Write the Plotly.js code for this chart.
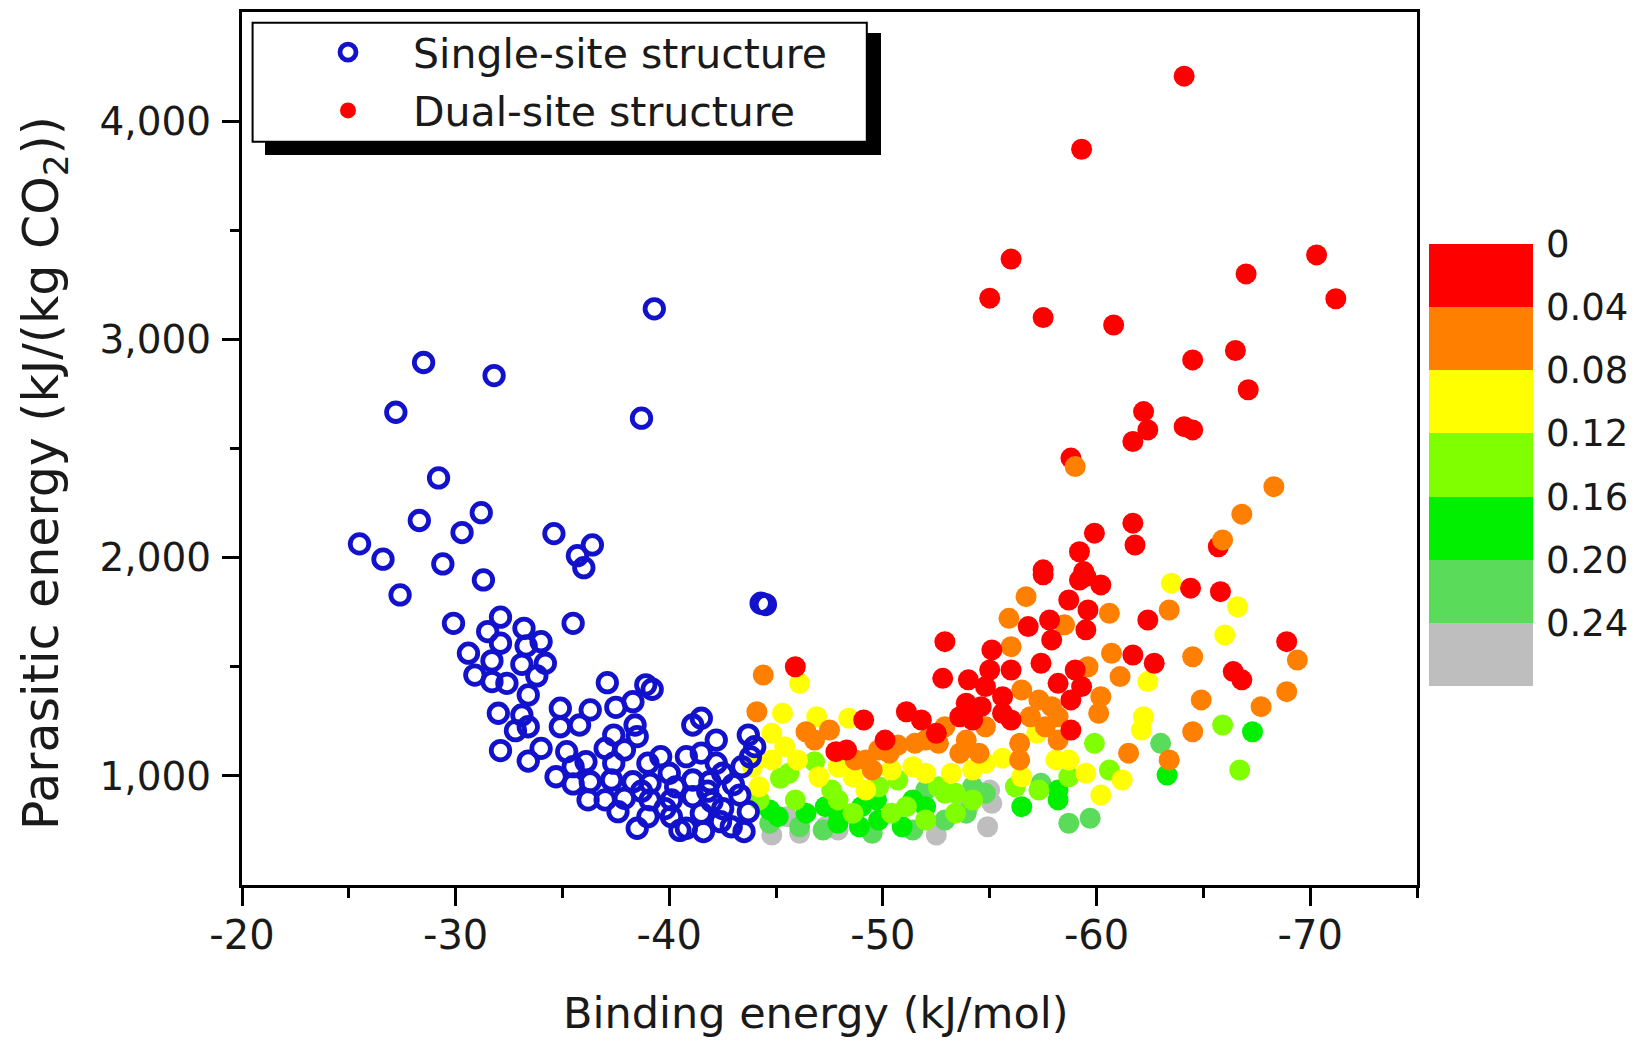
<!DOCTYPE html>
<html>
<head>
<meta charset="utf-8">
<script src="https://cdn.plot.ly/plotly-3.0.1.min.js"></script>
<style>
  html, body { margin: 0; padding: 0; background: #ffffff; }
  #chart { width: 1639px; height: 1045px; }
</style>
</head>
<body>
<div id="chart"></div>
<script>
// ---------------- data ----------------
const singleX = [
  -39.3, -28.5, -31.8, -27.2, -38.7, -29.2, -31.2, -28.3, -30.3, -34.6,
  -36.4, -35.7, -36.0, -25.5, -26.6, -29.4, -31.3, -27.4, -44.3, -44.5,
  -29.9, -35.5, -32.1, -31.5, -33.2, -34.0, -30.6, -32.1, -33.3, -31.7,
  -33.1, -34.2, -30.9, -32.4, -33.8, -31.7, -33.4, -32.0, -33.1, -32.8,
  -33.4, -37.1, -39.2, -38.9, -34.9, -36.3, -37.5, -38.3, -35.8, -34.9,
  -37.4, -38.5, -38.4, -41.5, -41.1, -43.7, -42.2, -44.0, -34.0, -33.4,
  -35.2, -35.5, -36.1, -37.0, -37.9, -37.4, -39.0, -39.6, -40.8, -41.5,
  -42.2, -43.4, -34.7, -35.5, -36.3, -37.3, -38.3, -39.1, -40.0, -41.1,
  -41.9, -42.5, -36.2, -37.0, -37.9, -39.1, -40.1, -41.1, -42.0, -43.3,
  -43.7, -37.6, -39.0, -38.5, -40.1, -40.8, -41.5, -42.4, -42.9, -43.5,
  -41.6, -40.5, -43.8, -32.1, -40.3, -38.7, -41.8, -43.0, -39.8, -42.5
];
const singleY = [
  3140, 2894, 2834, 2666, 2639, 2365, 2206, 2170, 2115, 2110,
  2058, 2009, 1954, 2063, 1993, 1971, 1898, 1829, 1791, 1785,
  1699, 1699, 1727, 1661, 1676, 1615, 1562, 1608, 1595, 1527,
  1511, 1516, 1462, 1424, 1458, 1432, 1371, 1287, 1279, 1207,
  1225, 1427, 1397, 1417, 1310, 1302, 1314, 1340, 1233, 1225,
  1187, 1180, 1233, 1264, 1233, 1187, 1164, 1134, 1126, 1068,
  1111, 1042, 1065, 1126, 1119, 1058, 1058, 1088, 1088, 1104,
  1058, 1042, 996, 963, 973, 981, 973, 966, 1012, 981,
  973, 1012, 890, 890, 897, 890, 890, 905, 882, 912,
  836, 836, 813, 760, 813, 760, 829, 790, 767, 745,
  745, 750, 1087, 1116, 950, 930, 930, 960, 850, 850
];

// dual-site structures: binding energy, parasitic energy, colour value
const dualX = [
  -64.1, -59.3, -56.0, -55.0, -57.5, -60.8, -67.0, -70.3, -71.2, -64.5,
  -66.5, -67.1, -62.2, -62.4, -61.7, -64.1, -64.5, -58.8, -59.0, -68.3,
  -66.8, -65.7, -65.9, -61.7, -61.8, -59.9, -59.2, -57.5, -59.4,
  // gray
  -44.8, -45.5, -46.1, -47.3, -47.9, -52.5, -54.3, -55.0, -55.1, -54.9, -54.0,
  // medium green
  -54.8, -57.4, -58.7, -46.1, -47.2, -49.5, -51.4, -52.9, -53.9, -54.2, -44.7, -63.0, -59.7, -52.0,
  // green
  -49.7, -49.0, -51.4, -52.0, -47.3, -46.4, -45.1, -44.7, -56.5, -58.2, -58.2, -49.8, -47.9, -50.9, -48.9, -67.3, -63.3, -47.9,
  // light green
  -45.2, -46.8, -44.2, -45.9, -47.9, -50.7, -52.6, -53.4, -54.2, -56.2, -57.3, -58.7, -51.1, -52.0, -53.4, -50.4, -48.6,
  -65.9, -59.9, -66.7, -60.6, -52.9, -49.8, -47.6, -45.6,
  // yellow
  -43.9, -44.8, -45.4, -46.0, -47.9, -48.6, -50.4, -51.4, -52.0, -53.2, -54.2, -54.8, -56.5, -58.1, -44.2, -47.0, -49.2,
  -46.1, -45.3, -46.9, -48.4, -57.2, -55.6, -58.7, -63.5, -66.6, -66.0, -62.4, -62.2, -62.1, -59.5, -61.2, -60.2, -44.8,
  // orange
  -44.4, -44.1, -47.5, -46.4, -56.7, -55.9, -58.5, -56.0, -56.5, -57.3, -57.9, -58.2,
  -54.8, -53.9, -52.6, -51.5, -50.3, -49.2, -49.5, -54.5, -56.4, -56.4, -58.2, -46.8, -53.6,
  -60.6, -63.4, -69.4, -64.5, -60.7, -59.6, -61.1, -60.2, -64.9, -68.9, -67.7, -60.1, -64.5, -61.5, -63.4,
  -52.9, -52.0, -50.7, -49.8, -48.7, -56.9, -57.6,
  // red
  -45.9, -49.1, -52.9, -52.8, -51.1, -51.8, -52.5, -50.1, -48.3, -47.8,
  -54.0, -54.8, -55.6, -53.9, -54.6, -55.6, -53.6, -56.0, -54.2, -55.0, -55.1, -56.0, -56.8, -57.5, -57.8, -58.7, -57.4, -58.8, -59.2,
  -59.5, -60.2, -59.5, -59.6, -64.4, -65.8, -62.4, -68.9, -66.4, -66.8, -61.7, -62.7, -59.3,
  -58.8, -58.2, -59.0, -57.9
];
const dualY = [
  4206, 3871, 3368, 3189, 3100, 3066, 3300, 3387, 3186, 2906,
  2949, 2769, 2669, 2585, 2532, 2600, 2585, 2456, 2417, 2325,
  2199, 2050, 2081, 2158, 2058, 2112, 2027, 1944, 1936,
  729, 813, 737, 767, 752, 729, 920, 935, 874, 767, 859,
  920, 966, 783, 767, 752, 737, 752, 798, 829, 950, 783, 1149, 806, 935,
  890, 859, 890, 859, 859, 829, 813, 844, 859, 935, 890, 798, 783, 767, 767, 1202, 1004, 829,
  989, 1065, 890, 890, 890, 981, 950, 920, 890, 950, 935, 996, 859, 798, 829, 829, 829,
  1233, 1149, 1027, 1027, 920, 950, 935, 1012,
  1042, 1195, 1134, 1073, 1042, 996, 1027, 1042, 1012, 1012, 1027, 1058, 996, 1073, 950, 996, 935,
  1424, 1287, 1271, 1264, 1195, 1081, 1073, 1883, 1775, 1646, 1432, 1271, 1210, 1012, 981, 912, 1073,
  1462, 1294, 1210, 1202, 1821, 1722, 1692, 1592, 1394, 1348, 1317, 1271,
  1225, 1164, 1149, 1149, 1104, 1073, 1027, 1104, 1149, 1073, 1164, 1164, 1104,
  1745, 1760, 1531, 1546, 1562, 1500, 1455, 1363, 1348, 1386, 1317, 1287, 1202, 1104, 1073,
  1225, 1164, 1141, 1119, 1073, 1271, 1225,
  1500, 1256, 1615, 1447, 1294, 1256, 1195, 1164, 1119, 1111,
  1440, 1409, 1363, 1333, 1317, 1287, 1271, 1256, 1256, 1485, 1577, 1485, 1684, 1921, 1714, 1806, 1516, 1210, 1897,
  1913, 1875, 1669, 1760, 1860, 1844, 1714, 1615, 1478, 1440, 1554, 1516, 1409,
  1348, 1424, 1485, 1623
];
const dualC = [
  0.02, 0.02, 0.02, 0.02, 0.02, 0.02, 0.02, 0.02, 0.02, 0.02,
  0.02, 0.02, 0.02, 0.02, 0.02, 0.02, 0.02, 0.02, 0.06, 0.06,
  0.06, 0.02, 0.06, 0.02, 0.02, 0.02, 0.02, 0.02, 0.02,
  0.26, 0.26, 0.26, 0.26, 0.26, 0.26, 0.26, 0.26, 0.26, 0.26, 0.26,
  0.22, 0.22, 0.22, 0.22, 0.22, 0.22, 0.22, 0.22, 0.22, 0.22, 0.22, 0.22, 0.22, 0.22,
  0.18, 0.18, 0.18, 0.18, 0.18, 0.18, 0.18, 0.18, 0.18, 0.18, 0.18, 0.18, 0.18, 0.18, 0.18, 0.18, 0.18, 0.18,
  0.14, 0.14, 0.14, 0.14, 0.14, 0.14, 0.14, 0.14, 0.14, 0.14, 0.14, 0.14, 0.14, 0.14, 0.14, 0.14, 0.14,
  0.14, 0.14, 0.14, 0.14, 0.14, 0.14, 0.14, 0.14,
  0.10, 0.10, 0.10, 0.10, 0.10, 0.10, 0.10, 0.10, 0.10, 0.10, 0.10, 0.10, 0.10, 0.10, 0.10, 0.10, 0.10,
  0.10, 0.10, 0.10, 0.10, 0.10, 0.10, 0.10, 0.10, 0.10, 0.10, 0.10, 0.10, 0.10, 0.10, 0.10, 0.10, 0.10,
  0.06, 0.06, 0.06, 0.06, 0.06, 0.06, 0.06, 0.06, 0.06, 0.06, 0.06, 0.06,
  0.06, 0.06, 0.06, 0.06, 0.06, 0.06, 0.06, 0.06, 0.06, 0.06, 0.06, 0.06, 0.06,
  0.06, 0.06, 0.06, 0.06, 0.06, 0.06, 0.06, 0.06, 0.06, 0.06, 0.06, 0.06, 0.06, 0.06, 0.06,
  0.06, 0.06, 0.06, 0.06, 0.06, 0.06, 0.06,
  0.02, 0.02, 0.02, 0.02, 0.02, 0.02, 0.02, 0.02, 0.02, 0.02,
  0.02, 0.02, 0.02, 0.02, 0.02, 0.02, 0.02, 0.02, 0.02, 0.02, 0.02, 0.02, 0.02, 0.02, 0.02, 0.02, 0.02, 0.02, 0.02,
  0.02, 0.02, 0.02, 0.02, 0.02, 0.02, 0.02, 0.02, 0.02, 0.02, 0.02, 0.02, 0.02,
  0.02, 0.02, 0.02, 0.02
];

const seriesNames = ['Single-site structure', 'Dual-site structure'];
const xTitle = 'Binding energy (kJ/mol)';
const yTitle = 'Parasitic energy (kJ/(kg CO<sub>2</sub>))';
const xTickVals = [-20, -30, -40, -50, -60, -70];
const xTickText = ['-20', '-30', '-40', '-50', '-60', '-70'];
const xMinorVals = [-25, -35, -45, -55, -65, -75];
const yTickVals = [1000, 2000, 3000, 4000];
const yTickText = ['1,000', '2,000', '3,000', '4,000'];
const yMinorVals = [1500, 2500, 3500];
const cbTickVals = [0, 0.04, 0.08, 0.12, 0.16, 0.20, 0.24];
const cbTickText = ['0', '0.04', '0.08', '0.12', '0.16', '0.20', '0.24'];
const bandColors = ['#FF0000', '#FF8000', '#FFFF00', '#80FF00', '#00F000', '#5ADC5A', '#BEBEBE'];

// ---------------- build ----------------
const FONT = 'DejaVu Sans, Liberation Sans, Arial, sans-serif';
const TXT = '#1a1a1a';

// colorbar is drawn with 0 at the top: use negated values
const nBands = bandColors.length;
const cmax = 0, cmin = -0.04 * nBands;
const colorscale = [];
for (let i = 0; i < nBands; i++) {
  const col = bandColors[nBands - 1 - i];
  colorscale.push([i / nBands, col]);
  colorscale.push([(i + 1) / nBands, col]);
}

// layout geometry (pixels)
const L = 242, R = 222, T = 12, B = 160, W = 1639, H = 1045;
const pw = W - L - R, ph = H - T - B;
const px = v => (v - L) / pw;
const py = v => (H - B - v) / ph;

const traceDual = {
  type: 'scatter', mode: 'markers', name: seriesNames[1],
  x: dualX, y: dualY,
  legendrank: 2, legendgroup: 'dual',
  marker: {
    symbol: 'circle', size: 21,
    color: dualC.map(v => -v),
    cmin: cmin, cmax: cmax,
    colorscale: colorscale,
    line: { width: 0 },
    showscale: true,
    colorbar: {
      thickness: 104, thicknessmode: 'pixels',
      len: 442, lenmode: 'pixels',
      x: px(1429), xanchor: 'left',
      y: py(244), yanchor: 'top',
      xpad: 0, ypad: 0,
      outlinewidth: 0,
      tickmode: 'array',
      tickvals: cbTickVals.map(v => -v),
      ticktext: cbTickText,
      ticks: 'outside', ticklen: 6, tickcolor: 'rgba(0,0,0,0)',
      tickfont: { family: FONT, size: 37, color: TXT }
    }
  },
  hoverinfo: 'x+y'
};

const traceSingle = {
  type: 'scatter', mode: 'markers', name: seriesNames[0],
  x: singleX, y: singleY,
  legendrank: 1, legendgroup: 'single',
  marker: {
    symbol: 'circle-open', size: 18.5, color: '#1212CC',
    line: { width: 4.8, color: '#1212CC' }
  },
  hoverinfo: 'x+y'
};

const layout = {
  width: W, height: H,
  paper_bgcolor: '#ffffff', plot_bgcolor: '#ffffff',
  margin: { l: L, r: R, t: T, b: B, pad: 0, autoexpand: false },
  font: { family: FONT, color: TXT, size: 40 },
  showlegend: true,
  legend: {
    x: px(283), xanchor: 'left', y: py(19), yanchor: 'top',
    bgcolor: 'rgba(0,0,0,0)', borderwidth: 0,
    itemwidth: 120,
    tracegroupgap: 2,
    font: { family: FONT, size: 41, color: TXT }
  },
  xaxis: {
    range: [-20, -75],
    showgrid: false, zeroline: false,
    showline: true, linecolor: '#000', linewidth: 3, mirror: true,
    tickmode: 'array', tickvals: xTickVals, ticktext: xTickText,
    ticks: 'outside', ticklen: 18, tickwidth: 3, tickcolor: '#000',
    ticklabelstandoff: -5,
    minor: { tickmode: 'array', tickvals: xMinorVals, ticks: 'outside', ticklen: 10, tickwidth: 3, tickcolor: '#000' },
    tickfont: { family: FONT, size: 40, color: TXT }
  },
  yaxis: {
    range: [500, 4500],
    showgrid: false, zeroline: false,
    showline: true, linecolor: '#000', linewidth: 3, mirror: true,
    tickmode: 'array', tickvals: yTickVals, ticktext: yTickText,
    ticks: 'outside', ticklen: 17, tickwidth: 3, tickcolor: '#000',
    ticklabelstandoff: 3,
    minor: { tickmode: 'array', tickvals: yMinorVals, ticks: 'outside', ticklen: 9, tickwidth: 3, tickcolor: '#000' },
    tickfont: { family: FONT, size: 39, color: TXT }
  },
  annotations: [
    { text: xTitle, xref: 'paper', yref: 'paper', x: px(815), y: py(1013),
      xanchor: 'center', yanchor: 'middle', showarrow: false,
      font: { family: FONT, size: 43, color: TXT } },
    { text: yTitle, xref: 'paper', yref: 'paper', x: px(44), y: py(473),
      xanchor: 'center', yanchor: 'middle', textangle: -90, showarrow: false,
      font: { family: FONT, size: 49, color: TXT } }
  ],
  shapes: [
    { type: 'rect', xref: 'paper', yref: 'paper', layer: 'above',
      x0: px(265), x1: px(881), y0: py(155), y1: py(33),
      fillcolor: '#000', line: { width: 0 } },
    { type: 'rect', xref: 'paper', yref: 'paper', layer: 'above',
      x0: px(252.6), x1: px(866.8), y0: py(141.7), y1: py(22.7),
      fillcolor: '#fff', line: { width: 2, color: '#000' } }
  ]
};

Plotly.newPlot('chart', [traceDual, traceSingle], layout, { displayModeBar: false, staticPlot: true });
</script>
</body>
</html>
